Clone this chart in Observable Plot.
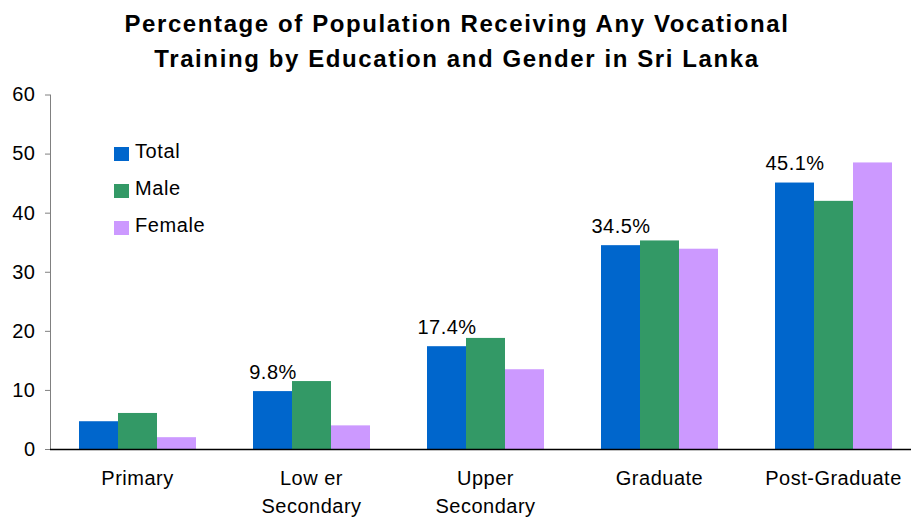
<!DOCTYPE html>
<html>
<head>
<meta charset="utf-8">
<script src="https://cdn.jsdelivr.net/npm/d3@7"></script>
<script src="https://cdn.jsdelivr.net/npm/@observablehq/plot@0.6"></script>
<style>
  html, body { margin: 0; padding: 0; background: #fff; overflow: hidden; }
  #wrap { position: relative; width: 911px; height: 518px; font-family: "Liberation Sans", Arial, sans-serif; }
  #title { position: absolute; left: 0; top: 6px; width: 914px; text-align: center; font-weight: bold; font-size: 24px; letter-spacing: 1.6px; line-height: 35px; color: #000; }
  #chart { position: absolute; left: 0; top: 80px; }
  #legend { position: absolute; left: 114px; top: 133px; font-size: 20px; letter-spacing: 0.6px; color: #000; }
  .li { display: flex; align-items: center; height: 37px; }
  .sw { width: 15px; height: 14px; margin-right: 6px; margin-top: 4px; }
  #chart svg text { letter-spacing: 0.5px; }
</style>
</head>
<body>
<div id="wrap">
  <div id="title">Percentage of Population Receiving Any Vocational<br>Training by Education and Gender in Sri Lanka</div>
  <div id="chart"></div>
  <div id="legend"></div>
</div>
<script>
const categories = ["Primary", "Low er\nSecondary", "Upper\nSecondary", "Graduate", "Post-Graduate"];
const seriesNames = ["Total", "Male", "Female"];
const totalValues = [4.7, 9.8, 17.4, 34.5, 45.1];
const maleValues = [6.1, 11.5, 18.8, 35.3, 42.0];
const femaleValues = [2.0, 4.0, 13.5, 33.9, 48.5];
const labelTexts = ["", "9.8%", "17.4%", "34.5%", "45.1%"];
const yTicks = [0, 10, 20, 30, 40, 50, 60];
const colors = ["#0066CC", "#339966", "#CC99FF"];

const seriesValues = [totalValues, maleValues, femaleValues];
const rows = [];
categories.forEach((c, i) => {
  seriesNames.forEach((s, j) => {
    rows.push({category: c, series: s, value: seriesValues[j][i], label: j === 0 ? labelTexts[i] : ""});
  });
});

const chart = Plot.plot({
  width: 911,
  height: 438,
  marginTop: 14.5,
  marginBottom: 69,
  marginLeft: 50,
  marginRight: 0,
  style: {fontFamily: "'Liberation Sans', Arial, sans-serif", fontSize: "20px", color: "#000", background: "#fff"},
  fx: {domain: categories, range: [50, 920], padding: 0, label: null},
  x: {domain: seriesNames, paddingInner: 0, paddingOuter: 0.73, axis: null},
  y: {domain: [0, 60], label: null},
  color: {domain: seriesNames, range: colors},
  marks: [
    Plot.barY(rows, {fx: "category", x: "series", y: "value", fill: "series", inset: 0}),
    Plot.text(rows.filter(d => d.label), {fx: "category", x: "series", y: "value", text: "label", dy: -19, fontSize: 20, fill: "#000"}),
    Plot.frame({anchor: "left", stroke: "#808080", facetAnchor: "left"}),
    Plot.ruleY([0], {stroke: "#000", strokeWidth: 1.5}),
    Plot.axisY({ticks: yTicks, tickSize: 5, tickPadding: 10, stroke: "#808080", fill: "#000", fontSize: 20, label: null, tickFormat: d => String(d)}),
    Plot.axisFx({anchor: "bottom", tickSize: 0, tickPadding: 16, fontSize: 20, fill: "#000", lineHeight: 1.4, label: null})
  ]
});
document.getElementById("chart").appendChild(chart);

const legend = document.getElementById("legend");
seriesNames.forEach((s, j) => {
  const li = document.createElement("div");
  li.className = "li";
  const sw = document.createElement("div");
  sw.className = "sw";
  sw.style.background = colors[j];
  const t = document.createElement("span");
  t.textContent = s;
  li.appendChild(sw); li.appendChild(t);
  legend.appendChild(li);
});
</script>
</body>
</html>
